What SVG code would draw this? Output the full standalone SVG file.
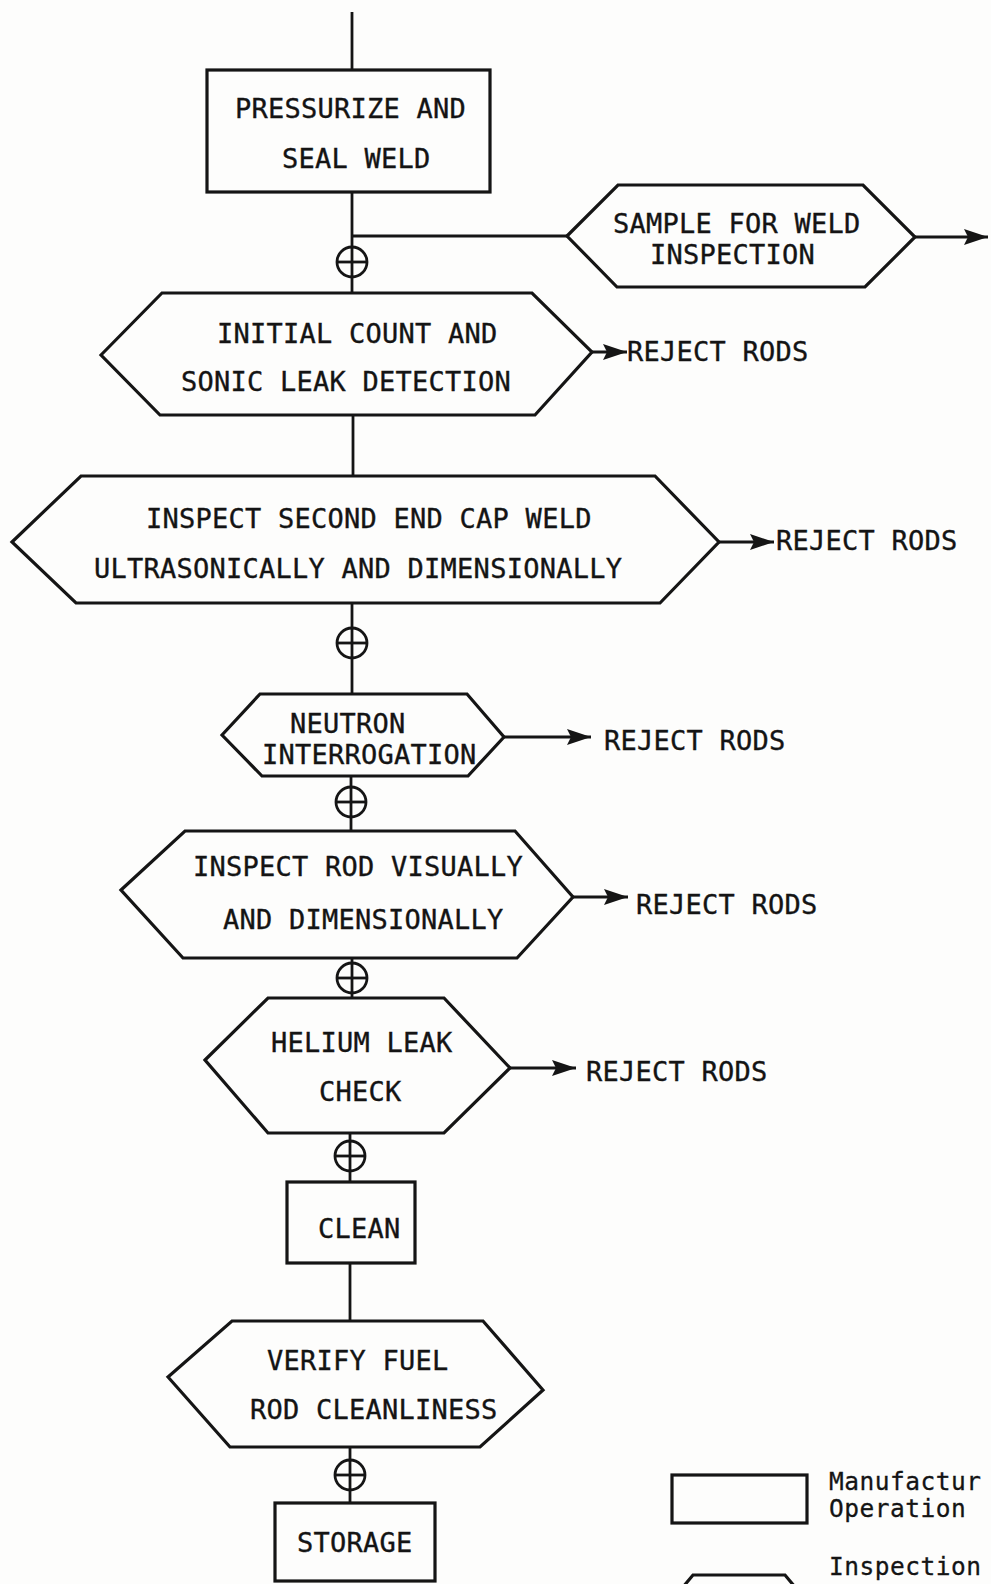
<svg xmlns="http://www.w3.org/2000/svg" width="991" height="1584" viewBox="0 0 991 1584">
<style>
.bg{fill:#fdfdfc}
.shape{fill:none;stroke:#151515;stroke-width:3.2;stroke-linejoin:miter}
.conn{fill:none;stroke:#151515;stroke-width:2.8}
.arr{fill:none;stroke:#151515;stroke-width:2.8;marker-end:url(#ah)}
.mark{fill:none;stroke:#151515;stroke-width:2.8}
.t{font-family:"DejaVu Sans Mono","Liberation Mono",monospace;font-size:27px;letter-spacing:0.25px;fill:#141414;stroke:#141414;stroke-width:0.35}
.lg{font-family:"DejaVu Sans Mono","Liberation Mono",monospace;font-size:24.5px;letter-spacing:0.5px;fill:#141414;stroke:#141414;stroke-width:0.3}
</style>
<defs>
<marker id="ah" markerUnits="userSpaceOnUse" viewBox="-2 -10 28 20" markerWidth="28" markerHeight="20" refX="24" refY="0" orient="auto">
<path d="M0,-8 L24,0 L0,8 L4,0 Z" fill="#151515"/>
</marker>
</defs>
<rect class="bg" x="0" y="0" width="991" height="1584"/>

<g id="connectors">
<path class="conn" d="M352,12 V70"/>
<path class="conn" d="M352,192 V293"/>
<path class="conn" d="M352,236 H567"/>
<path class="arr" d="M915,237 H988"/>
<path class="arr" d="M592,352 H627"/>
<path class="conn" d="M353,415 V476"/>
<path class="arr" d="M719,542 H774"/>
<path class="conn" d="M352,603 V694"/>
<path class="arr" d="M504,737 H591"/>
<path class="conn" d="M351,776 V831"/>
<path class="arr" d="M573,897 H628"/>
<path class="conn" d="M352,958 V998"/>
<path class="arr" d="M510,1068 H576"/>
<path class="conn" d="M350,1133 V1182"/>
<path class="conn" d="M350,1263 V1321"/>
<path class="conn" d="M350,1447 V1503"/>
</g>

<g id="inspection-marks">
<g id="mark1"><circle class="mark" cx="352" cy="262" r="15"/><path class="mark" d="M337,262 H367"/></g>
<g id="mark2"><circle class="mark" cx="352" cy="643" r="15"/><path class="mark" d="M337,643 H367"/></g>
<g id="mark3"><circle class="mark" cx="351" cy="802" r="15"/><path class="mark" d="M336,802 H366"/></g>
<g id="mark4"><circle class="mark" cx="352" cy="978" r="15"/><path class="mark" d="M337,978 H367"/></g>
<g id="mark5"><circle class="mark" cx="350" cy="1156" r="15"/><path class="mark" d="M335,1156 H365"/></g>
<g id="mark6"><circle class="mark" cx="350" cy="1475" r="15"/><path class="mark" d="M335,1475 H365"/></g>
</g>

<g id="pressurize">
<rect class="shape" x="207" y="70" width="283" height="122"/>
<text class="t" x="235" y="118">PRESSURIZE AND</text>
<text class="t" x="282" y="168">SEAL WELD</text>
</g>

<g id="sample">
<polygon class="shape" points="567,236 618,185 863,185 915,237 865,287 617,287"/>
<text class="t" x="613" y="233">SAMPLE FOR WELD</text>
<text class="t" x="650" y="264">INSPECTION</text>
</g>

<g id="initial-count">
<polygon class="shape" points="101,355 162,293 532,293 592,352 535,415 160,415"/>
<text class="t" x="217" y="343">INITIAL COUNT AND</text>
<text class="t" x="181" y="391">SONIC LEAK DETECTION</text>
</g>
<g id="reject1"><text class="t" x="627" y="361">REJECT RODS</text></g>

<g id="inspect-end-cap">
<polygon class="shape" points="12,542 81,476 655,476 719,542 660,603 76,603"/>
<text class="t" x="146" y="528">INSPECT SECOND END CAP WELD</text>
<text class="t" x="94" y="578">ULTRASONICALLY AND DIMENSIONALLY</text>
</g>
<g id="reject2"><text class="t" x="776" y="550">REJECT RODS</text></g>

<g id="neutron">
<polygon class="shape" points="222,735 260,694 467,694 504,737 468,776 262,776"/>
<text class="t" x="290" y="733">NEUTRON</text>
<text class="t" x="262" y="764">INTERROGATION</text>
</g>
<g id="reject3"><text class="t" x="604" y="750">REJECT RODS</text></g>

<g id="inspect-rod">
<polygon class="shape" points="121,890 185,831 515,831 573,897 517,958 183,958"/>
<text class="t" x="193" y="876">INSPECT ROD VISUALLY</text>
<text class="t" x="223" y="929">AND DIMENSIONALLY</text>
</g>
<g id="reject4"><text class="t" x="636" y="914">REJECT RODS</text></g>

<g id="helium">
<polygon class="shape" points="205,1060 268,998 444,998 510,1068 444,1133 268,1133"/>
<text class="t" x="271" y="1052">HELIUM LEAK</text>
<text class="t" x="319" y="1101">CHECK</text>
</g>
<g id="reject5"><text class="t" x="586" y="1081">REJECT RODS</text></g>

<g id="clean">
<rect class="shape" x="287" y="1182" width="128" height="81"/>
<text class="t" x="318" y="1238">CLEAN</text>
</g>

<g id="verify">
<polygon class="shape" points="168,1377 232,1321 483,1321 543,1390 480,1447 230,1447"/>
<text class="t" x="267" y="1370">VERIFY FUEL</text>
<text class="t" x="250" y="1419">ROD CLEANLINESS</text>
</g>

<g id="storage">
<rect class="shape" x="275" y="1503" width="160" height="78"/>
<text class="t" x="297" y="1552">STORAGE</text>
</g>

<g id="legend">
<rect class="shape" x="672" y="1475" width="135" height="48"/>
<text class="lg" x="829" y="1490">Manufactur</text>
<text class="lg" x="829" y="1517">Operation</text>
<polygon class="shape" points="668,1605 693,1575 785,1575 810,1605"/>
<text class="lg" x="829" y="1575">Inspection</text>
</g>
</svg>
